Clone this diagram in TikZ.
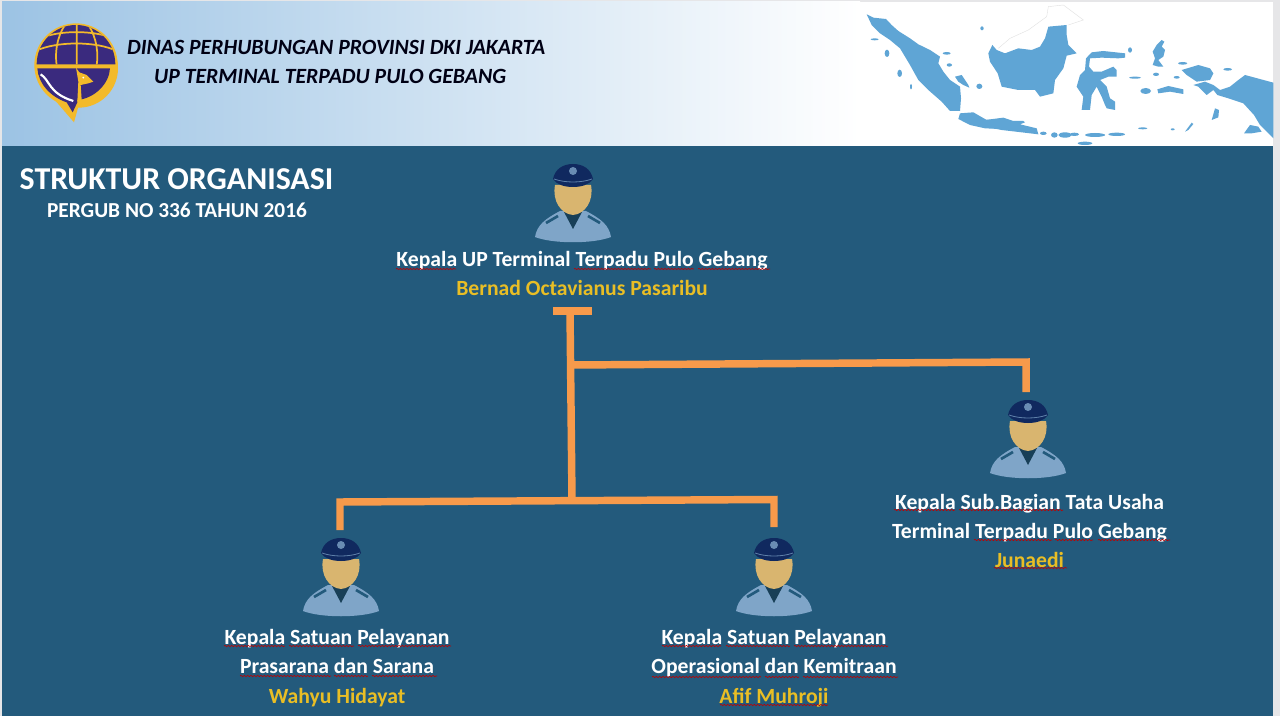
\documentclass[tikz,border=0pt]{standalone}
\usepackage{fontspec}
\setmainfont{Carlito}
\usetikzlibrary{decorations.pathmorphing}
\definecolor{panelblue}{HTML}{235A7C}
\definecolor{stripgrey}{HTML}{E6E6E8}
\definecolor{headblue}{HTML}{9CC3E4}
\definecolor{mapblue}{HTML}{5FA5D5}
\definecolor{lineorange}{HTML}{F79A4B}
\definecolor{nameyellow}{HTML}{E9BE25}
\definecolor{skintan}{HTML}{D9B56F}
\definecolor{shirtblue}{HTML}{7FA5C8}
\definecolor{capnavy}{HTML}{10295F}
\definecolor{logopurple}{HTML}{3A2A7E}
\definecolor{logogold}{HTML}{F3BA2A}
\tikzset{
    officer/.pic={
        \fill[shirtblue] (-38,-6) .. controls (-36,-18) and (-28,-24) .. (-13,-32) -- (13,-32) .. controls (28,-24) and (36,-18) .. (38,-6) .. controls (20,1) and (-20,1) .. cycle;
        \fill[panelblue!70!black] (-9,-31) -- (0,-14) -- (9,-31) -- cycle;
        \draw[panelblue, line width=2pt] (-27,-20) -- (-15,-27) (27,-20) -- (15,-27);
        \fill[skintan] (-18,-58) .. controls (-21,-42) and (-12,-29) .. (0,-28) .. controls (12,-29) and (21,-42) .. (18,-58) -- cycle;
        \fill[capnavy] (-20,-64) .. controls (-18,-74) and (-10,-79) .. (0,-79) .. controls (10,-79) and (18,-74) .. (20,-64) .. controls (16,-58) and (8,-56) .. (0,-56) .. controls (-8,-56) and (-16,-58) .. cycle;
        \draw[shirtblue!70!capnavy, line width=.6pt] (-19,-64) .. controls (-8,-60) and (8,-60) .. (19,-64);
        \fill[shirtblue!80!capnavy] (0,-72) circle (4);
    },
    connector/.style={lineorange, line width=5.6pt},
    jobtitle/.style={white, font=\fontsize{16.25pt}{22.1pt}\selectfont\bfseries, align=center},
    spellmark/.style={red!75!black, line width=.45pt, decorate, decoration={snake, amplitude=.5pt, segment length=2.5pt}},
    headline/.style={font=\fontsize{16.3pt}{21pt}\selectfont\bfseries\itshape, text=black!92!blue, align=center},
    tinted/.style={fill=mapblue},
}
\begin{document}
\begin{tikzpicture}[x=.75pt, y=-.75pt]
\useasboundingbox (0,0) rectangle (1280,716);
\fill[stripgrey] (0,0) rectangle (1280,716);

% Header
\fill[left color=headblue, right color=white] (2,2) rectangle (860,146);
\fill[white] (860,2) rectangle (1273,146);

% Map, west part
\begin{scope}[shift={(860,5)}]
\begin{scope}[x=.25pt, y=-.25pt]
\fill[tinted] (20,28) -- (40,38) -- (78,42) -- (95,60) -- (115,78) -- (150,100) -- (175,118) -- (210,135) -- (240,155) -- (235,175) -- (250,200) -- (270,225) -- (300,245) -- (303,280) -- (300,318) -- (270,318) -- (245,290) -- (205,255) -- (175,225) -- (150,180) -- (120,130) -- (90,105) -- (60,85) -- (35,60) -- cycle;
\fill[tinted] (300,325) -- (340,322) -- (380,345) -- (420,345) -- (420,372) -- (375,370) -- (330,360) -- (295,342) -- cycle;
\fill[tinted] (285,215) -- (305,210) -- (325,240) -- (328,248) -- (310,240) -- (295,230) -- cycle;
\foreach \cx/\cy/\rx/\ry in {358/244/9/8, 366/70/5/6, 44/103/12/3, 81/145/7/11, 119/205/7/11, 153/245/3/8, 260/145/12/4, 268/180/8/5}
    \fill[tinted] (\cx,\cy) ellipse [x radius=\rx, y radius=\ry];
\end{scope}
\end{scope}

% Map, middle part
\begin{scope}[shift={(985,15)}]
\begin{scope}[x=.25pt, y=-.25pt]
\draw[black!12, line width=.3pt] (40,100) -- (75,70) -- (130,45) -- (185,5) -- (190,-25) -- (235,-30) -- (295,15) -- (250,30);
\fill[tinted] (22,90) -- (35,105) -- (60,115) -- (100,100) -- (140,105) -- (165,95) -- (180,70) -- (190,35) -- (245,30) -- (245,60) -- (250,90) -- (275,115) -- (245,122) -- (235,160) -- (210,195) -- (205,235) -- (165,245) -- (150,225) -- (100,225) -- (50,215) -- (38,175) -- (15,140) -- (10,115) -- cycle;
\fill[tinted] (420,115) -- (355,108) -- (320,112) -- (303,130) -- (300,165) -- (285,180) -- (275,215) -- (295,245) -- (290,285) -- (315,285) -- (320,240) -- (335,215) -- (350,245) -- (360,270) -- (365,280) -- (390,285) -- (390,260) -- (375,250) -- (365,215) -- (345,195) -- (370,185) -- (395,185) -- (395,165) -- (385,155) -- (350,170) -- (325,170) -- (312,155) -- (315,130) -- (350,128) -- (400,130) -- (420,128) -- cycle;
\fill[tinted] (0,315) -- (55,308) -- (85,318) -- (115,318) -- (120,322) -- (105,328) -- (155,340) -- (160,358) -- (110,352) -- (50,345) -- (0,335) -- cycle;
\foreach \cx/\cy/\rx/\ry in {175/355/10/5, 208/360/10/8, 240/360/20/8, 268/358/14/5, 330/360/30/6, 395/358/25/5, 300/385/22/5}
    \fill[tinted] (\cx,\cy) ellipse [x radius=\rx, y radius=\ry];
\end{scope}
\end{scope}

% Map, east part
\begin{scope}[shift={(1130,30)}]
\begin{scope}[x=.25pt, y=-.25pt]
\fill[tinted] (345,135) -- (430,158) -- (430,325) -- (390,285) -- (372,255) -- (340,220) -- (295,205) -- (262,195) -- (250,180) -- (230,195) -- (205,170) -- (190,165) -- (225,155) -- (250,165) -- (270,180) -- (300,170) -- (325,150) -- cycle;
\fill[tinted] (342,310) -- (360,285) -- (385,290) -- (395,305) -- (365,310) -- cycle;
\fill[tinted] (155,120) -- (205,105) -- (240,115) -- (250,130) -- (240,150) -- (200,155) -- (170,135) -- cycle;
\fill[tinted] (95,30) -- (103,35) -- (95,50) -- (105,60) -- (100,80) -- (85,90) -- (100,110) -- (85,110) -- (68,105) -- (75,85) -- (68,65) -- (80,45) -- cycle;
\fill[tinted] (82,178) -- (115,168) -- (160,178) -- (160,192) -- (120,185) -- (85,190) -- cycle;
\fill[tinted] (245,270) -- (255,235) -- (267,240) -- (265,262) -- cycle;
\fill[tinted] (165,305) -- (185,278) -- (190,282) -- (175,300) -- cycle;
\foreach \cx/\cy/\rx/\ry in {47/183/16/9, 158/100/14/4, 293/118/13/4, 140/142/9/4, 78/133/9/5, 15/143/18/3, 38/295/14/3, 128/298/6/3, 0/60/6/8}
    \fill[tinted] (\cx,\cy) ellipse [x radius=\rx, y radius=\ry];
\end{scope}
\end{scope}

% Panel
\fill[panelblue] (2,146) rectangle (1273,716);

% Logo
\begin{scope}[shift={(20,15)}]
\begin{scope}[x=.25pt, y=-.25pt]
\fill[logogold] (168,150) circle [radius=125];
\fill[logogold] (176,160) circle [radius=118];
\fill[logogold] (100,250) -- (162,322) -- (182,250) -- cycle;
\fill[logopurple] (50,148) arc [start angle=180, end angle=360, radius=118] -- cycle;
\begin{scope}
\clip (50,148) arc [start angle=180, end angle=360, radius=118] -- cycle;
\draw[logogold, line width=1.3pt] (46,108) .. controls (110,78) and (230,78) .. (290,108) (170,20) -- (170,150) (135,30) .. controls (108,70) and (105,120) .. (110,150) (205,30) .. controls (232,70) and (235,120) .. (230,150) (85,62) .. controls (130,48) and (210,48) .. (255,62);
\end{scope}
\fill[logopurple] (52,160) -- (270,160) .. controls (268,205) and (225,250) .. (172,255) -- (172,262) -- (158,292) -- (140,262) .. controls (90,245) and (55,205) .. cycle;
\draw[white, line width=1.6pt] (62,178) .. controls (90,195) and (85,235) .. (160,258);
\fill[logogold] (168,158) -- (175,200) -- (172,260) -- (185,255) -- (182,210) -- (205,205) -- (220,200) -- (200,180) -- (178,172) -- cycle;
\fill[white] (190,188) circle [radius=3];
\end{scope}
\end{scope}

% Header texts
\node[headline, anchor=west] (dinas) at (122.5,47.5) {DINAS PERHUBUNGAN PROVINSI DKI JAKARTA};
\node[headline, anchor=west] (terminal) at (149.5,76.5) {UP TERMINAL TERPADU PULO GEBANG};

% Title
\node[white, font=\fontsize{23.9pt}{26pt}\selectfont\bfseries] (judul) at (176.5,179) {STRUKTUR ORGANISASI};
\node[white, font=\fontsize{16pt}{18pt}\selectfont\bfseries] (pergub) at (177,210) {PERGUB NO 336 TAHUN 2016};

% Officers
\pic at (573,243) {officer};
\pic at (1028,479) {officer};
\pic at (341,617) {officer};
\pic at (774,617) {officer};

% Labels
\node[jobtitle] (kepala) at (582,273.5) {Kepala UP Terminal Terpadu Pulo Gebang\\ \textcolor{nameyellow}{Bernad Octavianus Pasaribu}};
\node[jobtitle] (tatausaha) at (1029.5,531) {Kepala Sub.Bagian Tata Usaha\\ Terminal Terpadu Pulo Gebang\\ \textcolor{nameyellow}{Junaedi}};
\node[jobtitle] (prasarana) at (337,668) {Kepala Satuan Pelayanan\\ Prasarana dan Sarana\\ \textcolor{nameyellow}{Wahyu Hidayat}};
\node[jobtitle] (operasional) at (774,668) {Kepala Satuan Pelayanan\\ Operasional dan Kemitraan\\ \textcolor{nameyellow}{Afif Muhroji}};

% Spelling marks
\foreach \yy/\xa/\xb in {269/396/456, 269/574/651, 269/654/694, 269/698/770, 510/894/955, 510/959/1063, 540/974/1052, 540/1055/1093, 540/1098/1170, 568/994/1067, 646/224/285, 646/289/354, 646/358/451, 676/240/331, 676/334/368, 676/372/437, 646/662/721, 646/726/790, 646/794/888, 677/652/761, 677/765/799, 677/803/898, 705/720/828}
    \draw[spellmark] (\xa,\yy) -- (\xb,\yy);

% Connectors
\coordinate (barL) at (553,311);
\coordinate (barR) at (592,311);
\coordinate (barM) at (570,311);
\coordinate (split) at (572,500);
\coordinate (branch) at (570.5,365);
\coordinate (rightDrop) at (1026,392);
\coordinate (leftDrop) at (340,530);
\coordinate (midDrop) at (774,527);
\draw[connector] (barL) -- (barR);
\draw[connector] (barM) -- (split);
\draw[connector] (branch) -- (1026,362) -- (rightDrop);
\draw[connector] (leftDrop) -- (340,502) -- (774,499.5) -- (midDrop);
\end{tikzpicture}
\end{document}
